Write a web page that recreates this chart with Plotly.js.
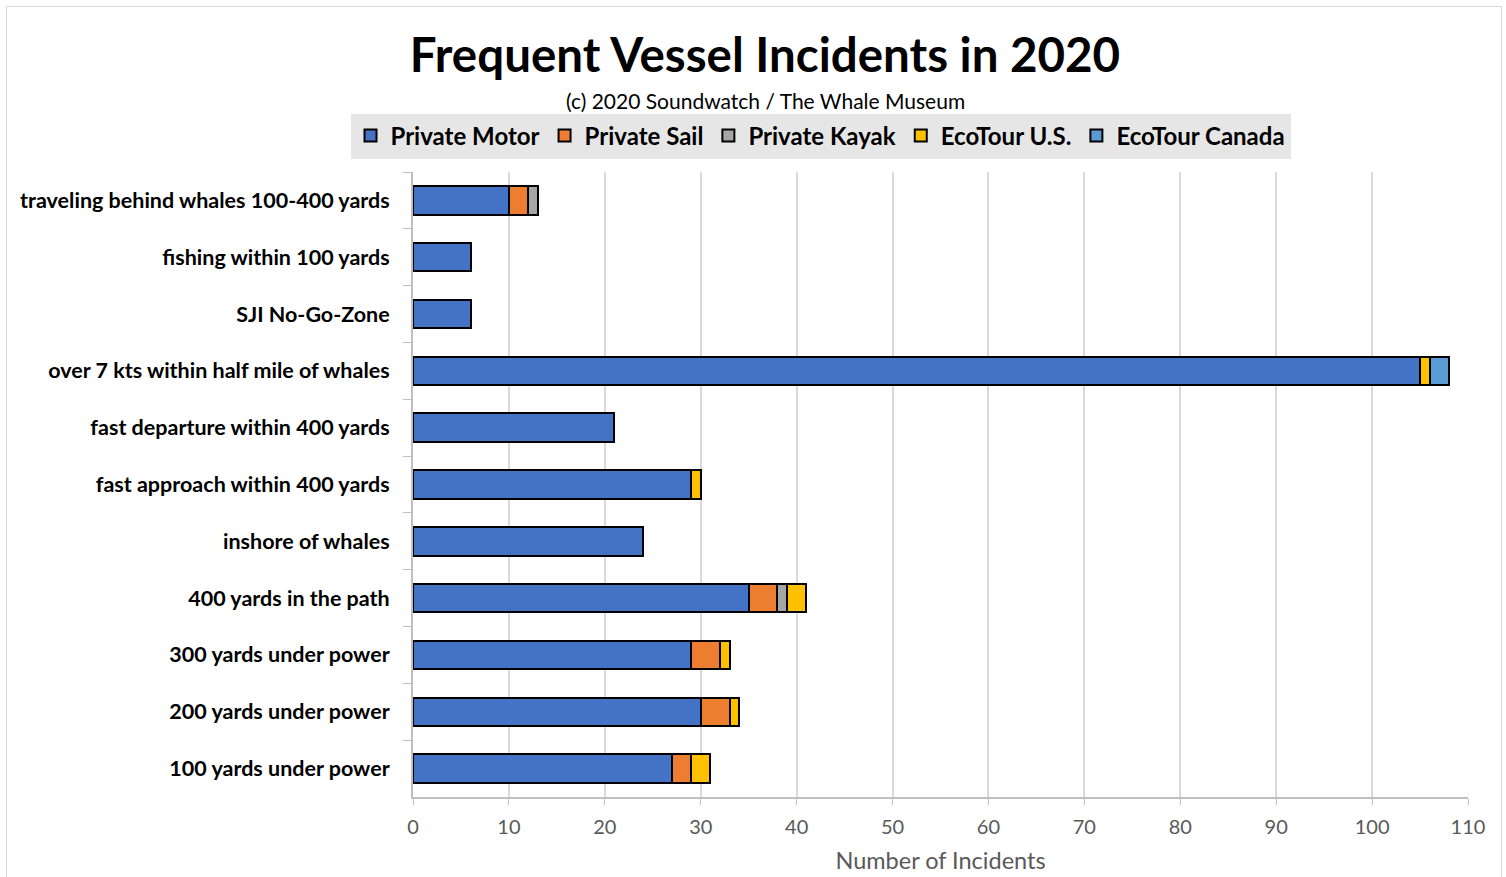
<!DOCTYPE html>
<html><head><meta charset="utf-8">
<script src="https://cdn.plot.ly/plotly-3.0.1.min.js"></script>
<style>
html,body{margin:0;padding:0;background:#fff;}
#wrap{position:relative;width:1506px;height:877px;}
#chart{width:1506px;height:877px;}
#frame{position:absolute;left:6px;top:6px;width:1494px;height:880px;border:1px solid #d9d9d9;pointer-events:none;}
</style>
</head><body>
<div id="wrap"><div id="chart"></div><div id="frame"></div></div>
<script>
const categories = [
  "traveling behind whales 100-400 yards",
  "fishing within 100 yards",
  "SJI No-Go-Zone",
  "over 7 kts within half mile of whales",
  "fast departure within 400 yards",
  "fast approach within 400 yards",
  "inshore of whales",
  "400 yards in the path",
  "300 yards under power",
  "200 yards under power",
  "100 yards under power"
];
const privateMotor = [10, 6, 6, 105, 21, 29, 24, 35, 29, 30, 27];
const privateSail  = [2, 0, 0, 0, 0, 0, 0, 3, 3, 3, 2];
const privateKayak = [1, 0, 0, 0, 0, 0, 0, 1, 0, 0, 0];
const ecoTourUS    = [0, 0, 0, 1, 0, 1, 0, 2, 1, 1, 2];
const ecoTourCanada= [0, 0, 0, 2, 0, 0, 0, 0, 0, 0, 0];
const seriesNames = ["Private Motor", "Private Sail", "Private Kayak", "EcoTour U.S.", "EcoTour Canada"];
const seriesColors = ["#4472c4", "#ed7d31", "#a5a5a5", "#ffc000", "#5b9bd5"];
const xTicks = [0,10,20,30,40,50,60,70,80,90,100,110];

const FONT = "Lato, 'Open Sans', sans-serif";
const allSeries = [privateMotor, privateSail, privateKayak, ecoTourUS, ecoTourCanada];
const traces = allSeries.map((vals, i) => ({
  type: 'bar',
  orientation: 'h',
  name: seriesNames[i],
  y: categories,
  x: vals,
  marker: {color: seriesColors[i], line: {color: '#000', width: 2}},
  hoverinfo: 'x+name'
}));

const layout = {
  width: 1506, height: 877,
  barmode: 'stack',
  bargap: 0.5,
  paper_bgcolor: '#fff',
  plot_bgcolor: '#fff',
  margin: {l: 413, r: 38, t: 172, b: 80},
  font: {family: FONT, color: '#000'},
  title: {
    text: '<b>Frequent Vessel Incidents in 2020</b>',
    font: {family: FONT, size: 47.5, color: '#000'},
    xref: 'container', x: 765/1506, xanchor: 'center',
    yref: 'container', y: 1 - 55/877, yanchor: 'middle'
  },
  annotations: [{
    text: '(c) 2020 Soundwatch / The Whale Museum',
    xref: 'paper', yref: 'paper',
    x: (765-413)/1055, y: (797-100)/625,
    xanchor: 'center', yanchor: 'middle', showarrow: false,
    font: {family: FONT, size: 21, color: '#000'}
  }],
  showlegend: true,
  legend: {
    orientation: 'h',
    xref: 'paper', yref: 'paper',
    x: (820.5-413)/1055, xanchor: 'center',
    y: (797-136)/625, yanchor: 'middle',
    bgcolor: '#e7e6e6',
    font: {family: FONT, size: 24, color: '#000', weight: 'bold'},
    traceorder: 'normal',
    itemwidth: 30
  },
  xaxis: {
    range: [0, 110],
    tickvals: xTicks,
    ticktext: xTicks.map(String),
    showgrid: true, gridcolor: '#d9d9d9', gridwidth: 2,
    zeroline: false,
    showline: true, linecolor: '#bfbfbf', linewidth: 2,
    ticks: 'outside', ticklen: 6, tickcolor: '#bfbfbf',
    ticklabelstandoff: 5,
    tickfont: {family: FONT, size: 20, color: '#595959'},
    title: {text: 'Number of Incidents', font: {family: FONT, size: 23.5, color: '#595959'}, standoff: 16},
    fixedrange: true
  },
  yaxis: {
    type: 'category',
    autorange: 'reversed',
    showline: true, linecolor: '#bfbfbf', linewidth: 2,
    showgrid: false,
    ticks: 'outside', tickson: 'boundaries', ticklen: 8, tickcolor: '#bfbfbf',
    tickfont: {family: FONT, size: 21.5, color: '#000', weight: 'bold'},
    ticklabelstandoff: 17,
    fixedrange: true
  }
};

Plotly.newPlot('chart', traces, layout, {displayModeBar: false, staticPlot: true});
</script>
</body></html>
